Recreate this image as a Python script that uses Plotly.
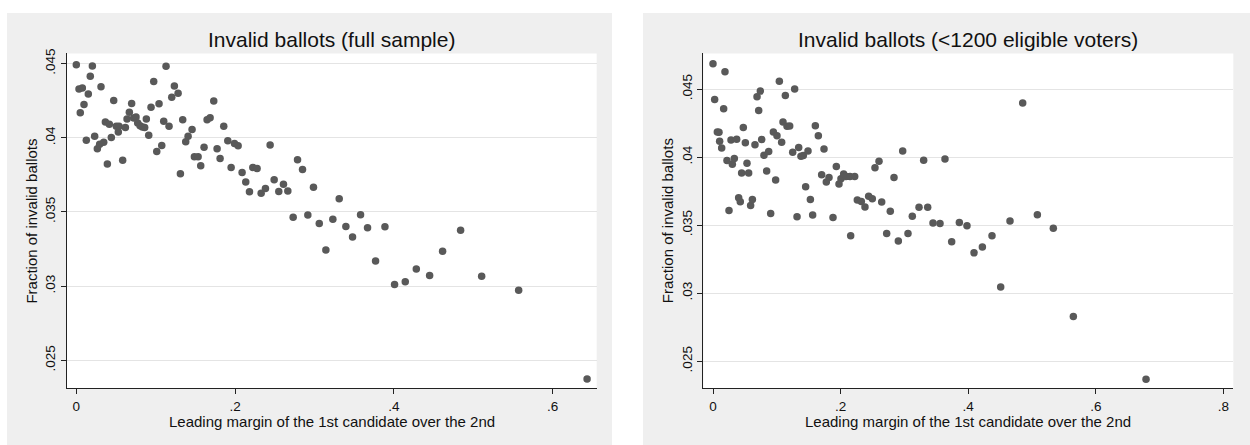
import plotly.graph_objects as go

# ---- Data: left panel (full sample) ----
full_margin = [0.0000, 0.0034, 0.0076, 0.0050, 0.0097, 0.0176, 0.0151, 0.0202, 0.0126, 0.0231,
               0.0265, 0.0294, 0.0311, 0.0345, 0.0366, 0.0391, 0.0416, 0.0441, 0.0471, 0.0504,
               0.0529, 0.0538, 0.0584, 0.0618, 0.0639, 0.0668, 0.0697, 0.0723, 0.0752, 0.0773,
               0.0803, 0.0832, 0.0861, 0.0882, 0.0912, 0.0941, 0.0975, 0.1013, 0.1042, 0.1076,
               0.1101, 0.1130, 0.1168, 0.1202, 0.1235, 0.1282, 0.1311, 0.1340, 0.1378, 0.1408,
               0.1458, 0.1487, 0.1534, 0.1567, 0.1609, 0.1647, 0.1685, 0.1731, 0.1773, 0.1811,
               0.1857, 0.1908, 0.1950, 0.1992, 0.2038, 0.2088, 0.2134, 0.2181, 0.2223, 0.2277,
               0.2328, 0.2382, 0.2441, 0.2492, 0.2550, 0.2609, 0.2664, 0.2731, 0.2786, 0.2849,
               0.2916, 0.2987, 0.3060, 0.3143, 0.3231, 0.3311, 0.3395, 0.3479, 0.3580, 0.3668,
               0.3769, 0.3887, 0.4008, 0.4143, 0.4282, 0.4450, 0.4613, 0.4840, 0.5105, 0.5571,
               0.6433]
full_invalid = [0.04493, 0.04329, 0.04336, 0.04169, 0.04224, 0.04416, 0.04296, 0.04484, 0.03984, 0.04011,
                0.03927, 0.03956, 0.04344, 0.03971, 0.04107, 0.03824, 0.04091, 0.04002, 0.04251, 0.04078,
                0.04040, 0.04078, 0.03849, 0.04069, 0.04127, 0.04173, 0.04231, 0.04133, 0.04140, 0.04100,
                0.04082, 0.04073, 0.04069, 0.04127, 0.04018, 0.04207, 0.04380, 0.03907, 0.04229, 0.03949,
                0.04111, 0.04482, 0.04078, 0.04273, 0.04349, 0.04300, 0.03758, 0.04122, 0.03973, 0.04011,
                0.04056, 0.03873, 0.03873, 0.03811, 0.03936, 0.04122, 0.04136, 0.04249, 0.03927, 0.03860,
                0.04078, 0.03980, 0.03800, 0.03962, 0.03947, 0.03767, 0.03702, 0.03636, 0.03800, 0.03793,
                0.03627, 0.03658, 0.03951, 0.03718, 0.03638, 0.03687, 0.03642, 0.03464, 0.03853, 0.03787,
                0.03480, 0.03667, 0.03423, 0.03244, 0.03451, 0.03589, 0.03402, 0.03331, 0.03482, 0.03393,
                0.03169, 0.03400, 0.03011, 0.03029, 0.03116, 0.03071, 0.03236, 0.03377, 0.03067, 0.02973,
                0.02373]

# ---- Data: right panel (<1200 eligible voters) ----
small_margin = [0.0000, 0.0026, 0.0068, 0.0094, 0.0104, 0.0136, 0.0167, 0.0188, 0.0219, 0.0251,
                0.0282, 0.0303, 0.0334, 0.0371, 0.0402, 0.0428, 0.0449, 0.0475, 0.0507, 0.0533,
                0.0559, 0.0590, 0.0617, 0.0658, 0.0690, 0.0716, 0.0742, 0.0763, 0.0799, 0.0841,
                0.0873, 0.0904, 0.0946, 0.0982, 0.1003, 0.1040, 0.1076, 0.1097, 0.1134, 0.1160,
                0.1202, 0.1249, 0.1280, 0.1317, 0.1343, 0.1379, 0.1416, 0.1452, 0.1489, 0.1526,
                0.1562, 0.1604, 0.1651, 0.1703, 0.1740, 0.1776, 0.1818, 0.1881, 0.1933, 0.1975,
                0.2006, 0.2048, 0.2085, 0.2147, 0.2158, 0.2221, 0.2262, 0.2325, 0.2382, 0.2440,
                0.2497, 0.2539, 0.2602, 0.2644, 0.2722, 0.2779, 0.2837, 0.2905, 0.2973, 0.3056,
                0.3124, 0.3229, 0.3302, 0.3365, 0.3448, 0.3558, 0.3636, 0.3741, 0.3861, 0.3981,
                0.4091, 0.4222, 0.4373, 0.4509, 0.4655, 0.4854, 0.5084, 0.5334, 0.5648, 0.6787]
small_invalid = [0.04686, 0.04423, 0.04185, 0.04183, 0.04117, 0.04067, 0.04355, 0.04628, 0.03975, 0.03607,
                 0.04125, 0.03948, 0.03989, 0.04132, 0.03701, 0.03672, 0.03883, 0.04217, 0.04105, 0.03955,
                 0.03883, 0.03645, 0.03689, 0.04091, 0.04444, 0.04343, 0.04485, 0.04130, 0.04013, 0.03897,
                 0.04042, 0.03585, 0.04185, 0.03832, 0.04156, 0.04558, 0.04110, 0.04258, 0.04452, 0.04226,
                 0.04229, 0.04035, 0.04500, 0.03561, 0.04071, 0.04006, 0.04011, 0.03783, 0.04045, 0.03689,
                 0.03575, 0.04231, 0.04156, 0.03870, 0.04059, 0.03817, 0.03851, 0.03556, 0.03931, 0.03803,
                 0.03841, 0.03875, 0.03858, 0.03858, 0.03422, 0.03858, 0.03684, 0.03674, 0.03633, 0.03713,
                 0.03694, 0.03921, 0.03970, 0.03670, 0.03439, 0.03602, 0.03851, 0.03384, 0.04045, 0.03439,
                 0.03565, 0.03631, 0.03977, 0.03631, 0.03515, 0.03512, 0.03987, 0.03379, 0.03519, 0.03495,
                 0.03297, 0.03340, 0.03422, 0.03045, 0.03531, 0.04398, 0.03577, 0.03478, 0.02829, 0.02367]

titles = ["Invalid ballots (full sample)", "Invalid ballots (<1200 eligible voters)"]
x_title = "Leading margin of the 1st candidate over the 2nd"
y_title = "Fraction of invalid ballots"
y_tickvals = [0.025, 0.03, 0.035, 0.04, 0.045]
y_ticktext = [".025", ".03", ".035", ".04", ".045"]
x_tickvals_left = [0, 0.2, 0.4, 0.6]
x_ticktext_left = ["0", ".2", ".4", ".6"]
x_tickvals_right = [0, 0.2, 0.4, 0.6, 0.8]
x_ticktext_right = ["0", ".2", ".4", ".6", ".8"]

W, H = 1250, 445
FONT = "Liberation Sans, Arial, sans-serif"
MARK = "#595959"
BG = "#efefef"

fig = go.Figure()
fig.add_trace(go.Scatter(x=full_margin, y=full_invalid, mode="markers",
                         marker=dict(size=7.5, color=MARK, line=dict(width=0)),
                         xaxis="x", yaxis="y", showlegend=False))
fig.add_trace(go.Scatter(x=small_margin, y=small_invalid, mode="markers",
                         marker=dict(size=7.5, color=MARK, line=dict(width=0)),
                         xaxis="x2", yaxis="y2", showlegend=False))

# pixel geometry of plot areas
L = dict(x0=66.7, x1=596.7)
R = dict(x0=703.3, x1=1233.3)
top, bot = 49.0, 387.7

def px(v):
    return v / W

def py(v):
    return 1 - v / H

axis_common = dict(showline=True, linecolor="#222222", linewidth=1.2, ticks="outside",
                   ticklen=5, tickcolor="#222222", tickwidth=1.2,
                   tickfont=dict(family=FONT, size=13.5, color="#111111"), zeroline=False)

fig.update_layout(
    width=W, height=H, margin=dict(l=0, r=0, t=0, b=0),
    paper_bgcolor="white", plot_bgcolor="white",
    xaxis=dict(domain=[px(L["x0"]), px(L["x1"])], range=[-0.0121, 0.6554],
               tickvals=x_tickvals_left, ticktext=x_ticktext_left, showgrid=False,
               anchor="y", **axis_common),
    yaxis=dict(domain=[py(bot), py(top)], range=[0.023107, 0.04569],
               tickvals=y_tickvals, ticktext=y_ticktext, tickangle=-90,
               showgrid=True, gridcolor="#e4e4e4", gridwidth=1, anchor="x", **axis_common),
    xaxis2=dict(domain=[px(R["x0"]), px(R["x1"])], range=[-0.0152, 0.8155],
                tickvals=x_tickvals_right, ticktext=x_ticktext_right, showgrid=False,
                anchor="y2", **axis_common),
    yaxis2=dict(domain=[py(bot), py(top)], range=[0.02301, 0.047616],
                tickvals=y_tickvals, ticktext=y_ticktext, tickangle=-90,
                showgrid=True, gridcolor="#e4e4e4", gridwidth=1, anchor="x2", **axis_common),
)

# panel backgrounds (gray) and white plot regions, all beneath gridlines
for gx0, gx1 in [(7, 612), (643, W)]:
    fig.add_shape(type="rect", xref="paper", yref="paper", x0=px(gx0), x1=px(gx1), y0=0, y1=py(8),
                  fillcolor=BG, line=dict(width=0), layer="below")
for p in (L, R):
    fig.add_shape(type="rect", xref="paper", yref="paper", x0=px(p["x0"]), x1=px(p["x1"]),
                  y0=py(bot), y1=py(top), fillcolor="white", line=dict(width=0), layer="below")

anns = []
for i, (p, t) in enumerate(zip([L, R], titles)):
    cx = (p["x0"] + p["x1"]) / 2
    anns.append(dict(text=t, x=px(cx), y=py(35), xref="paper", yref="paper",
                     xanchor="center", yanchor="middle", showarrow=False,
                     font=dict(family=FONT, size=21, color="#111111")))
    anns.append(dict(text=x_title, x=px(cx), y=py(421), xref="paper", yref="paper",
                     xanchor="center", yanchor="middle", showarrow=False,
                     font=dict(family=FONT, size=15, color="#111111")))
    anns.append(dict(text=y_title, x=px(p["x0"] - 35), y=py((top + bot) / 2), xref="paper", yref="paper",
                     xanchor="center", yanchor="middle", showarrow=False, textangle=-90,
                     font=dict(family=FONT, size=15, color="#111111")))
fig.update_layout(annotations=anns)

fig.write_html("out.html", config={"displayModeBar": False},
               post_script="document.body.style.margin='0';document.body.style.padding='0';")
